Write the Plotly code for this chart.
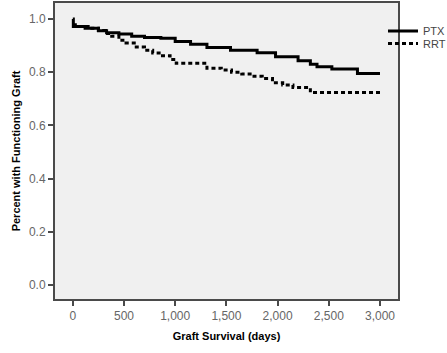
import plotly.graph_objects as go

# Kaplan-Meier style step data (days, proportion with functioning graft)
ptx_days = [0, 5, 120, 250, 330, 450, 575, 700, 860, 1000, 1150, 1310, 1540, 1800,
            1980, 2200, 2320, 2385, 2530, 2780, 3000]
ptx_surv = [1.0, 0.972, 0.965, 0.956, 0.948, 0.943, 0.935, 0.93, 0.927, 0.915, 0.905,
            0.893, 0.882, 0.873, 0.858, 0.843, 0.83, 0.82, 0.812, 0.795, 0.795]

rrt_days = [0, 50, 150, 250, 320, 380, 450, 520, 600, 700, 780, 860, 950, 1010, 1310,
            1450, 1550, 1650, 1750, 1850, 1950, 2050, 2150, 2320, 3000]
rrt_surv = [0.978, 0.972, 0.965, 0.957, 0.945, 0.935, 0.92, 0.91, 0.895, 0.882, 0.872,
            0.862, 0.848, 0.833, 0.815, 0.808, 0.8, 0.793, 0.785, 0.776, 0.76, 0.752,
            0.742, 0.723, 0.723]

series_names = ["PTX", "RRT"]
x_ticks = [0, 500, 1000, 1500, 2000, 2500, 3000]
y_ticks = [0.0, 0.2, 0.4, 0.6, 0.8, 1.0]

fig = go.Figure()
fig.add_trace(go.Scatter(x=ptx_days, y=ptx_surv, mode="lines", name=series_names[0],
                         legend="legend",
                         line=dict(shape="hv", color="black", width=3)))
fig.add_trace(go.Scatter(x=rrt_days, y=rrt_surv, mode="lines", name=series_names[1],
                         legend="legend2",
                         line=dict(shape="hv", color="black", width=3, dash="4px,3px")))

axis_common = dict(
    showgrid=False, zeroline=False, showline=True, linecolor="#4a4a4a", linewidth=2,
    mirror=True, ticks="outside", ticklen=5, tickwidth=1.5, tickcolor="#4a4a4a",
    tickfont=dict(family="Arial, Liberation Sans", size=12, color="#666666"),
    automargin=False,
)

legend_font = dict(family="Arial, Liberation Sans", size=11, color="#444444")

fig.update_layout(
    width=447, height=353,
    margin=dict(l=55, r=49, t=3, b=54, autoexpand=False),
    paper_bgcolor="white",
    plot_bgcolor="#f0f0f0",
    xaxis=dict(range=[-174, 3176], tickvals=x_ticks, tickformat=",d",
               title=dict(text="<b>Graft Survival (days)</b>", standoff=10,
                          font=dict(family="Arial, Liberation Sans", size=11, color="black")),
               **axis_common),
    yaxis=dict(range=[-0.053, 1.06], tickvals=y_ticks, tickformat=".1f",
               title=dict(text="<b>Percent with Functioning Graft</b>", standoff=6,
                          font=dict(family="Arial, Liberation Sans", size=11, color="black")),
               **axis_common),
    legend=dict(xref="container", yref="container", x=383 / 447, y=1 - 31 / 353,
                xanchor="left", yanchor="middle", bgcolor="rgba(0,0,0,0)", borderwidth=0,
                font=legend_font),
    legend2=dict(xref="container", yref="container", x=383 / 447, y=1 - 43.5 / 353,
                 xanchor="left", yanchor="middle", bgcolor="rgba(0,0,0,0)", borderwidth=0,
                 font=legend_font),
    showlegend=True,
)

fig.write_html("out.html")
